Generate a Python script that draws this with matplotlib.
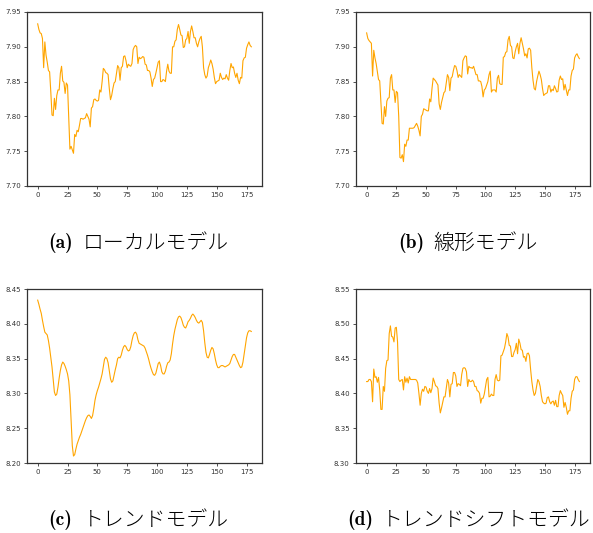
import matplotlib.pyplot as plt

# series (index 0..179)
local_model = [
    7.933, 7.925, 7.920, 7.919, 7.912, 7.870, 7.907, 7.888, 7.878, 7.866,
    7.864, 7.835, 7.802, 7.801, 7.826, 7.810, 7.830, 7.838, 7.838, 7.862,
    7.872, 7.851, 7.849, 7.833, 7.848, 7.845, 7.800, 7.753, 7.757, 7.752,
    7.747, 7.774, 7.771, 7.780, 7.778, 7.787, 7.797, 7.797, 7.796, 7.797,
    7.798, 7.804, 7.800, 7.796, 7.785, 7.812, 7.814, 7.824, 7.825, 7.823,
    7.822, 7.823, 7.838, 7.835, 7.850, 7.869, 7.867, 7.863, 7.862, 7.860,
    7.840, 7.824, 7.830, 7.840, 7.848, 7.850, 7.862, 7.873, 7.870, 7.852,
    7.870, 7.872, 7.886, 7.887, 7.880, 7.870, 7.875, 7.873, 7.872, 7.876,
    7.896, 7.900, 7.902, 7.900, 7.876, 7.885, 7.883, 7.884, 7.886, 7.885,
    7.875, 7.874, 7.866, 7.866, 7.864, 7.855, 7.843, 7.853, 7.855, 7.862,
    7.870, 7.878, 7.880, 7.850, 7.850, 7.853, 7.852, 7.850, 7.865, 7.875,
    7.865, 7.862, 7.862, 7.900, 7.900, 7.908, 7.910, 7.925, 7.932, 7.925,
    7.917, 7.916, 7.899, 7.900, 7.910, 7.912, 7.922, 7.905, 7.922, 7.930,
    7.922, 7.913, 7.913, 7.905, 7.900, 7.907, 7.912, 7.915, 7.900, 7.870,
    7.860, 7.855, 7.858, 7.870, 7.875, 7.881, 7.876, 7.868, 7.856, 7.847,
    7.850, 7.851, 7.852, 7.862, 7.856, 7.853, 7.855, 7.854, 7.860, 7.855,
    7.852, 7.866, 7.876, 7.870, 7.871, 7.862, 7.856, 7.862, 7.852, 7.847,
    7.856, 7.855, 7.880, 7.884, 7.885, 7.898, 7.903, 7.907, 7.902, 7.900,
]

linear_model = [
    7.920, 7.912, 7.909, 7.907, 7.905, 7.858, 7.895, 7.884, 7.876, 7.864,
    7.853, 7.851, 7.820, 7.790, 7.789, 7.814, 7.800, 7.822, 7.826, 7.827,
    7.855, 7.860, 7.838, 7.838, 7.820, 7.836, 7.834, 7.800, 7.741, 7.740,
    7.745, 7.735, 7.760, 7.757, 7.766, 7.766, 7.783, 7.783, 7.783, 7.783,
    7.784, 7.787, 7.790, 7.786, 7.780, 7.772, 7.800, 7.803, 7.811, 7.810,
    7.809, 7.808, 7.808, 7.825, 7.821, 7.840, 7.855, 7.853, 7.851, 7.848,
    7.845, 7.818, 7.810, 7.820, 7.827, 7.834, 7.836, 7.848, 7.860, 7.856,
    7.837, 7.855, 7.857, 7.866, 7.873, 7.872, 7.866, 7.856, 7.860, 7.858,
    7.856, 7.880, 7.884, 7.887, 7.886, 7.861, 7.872, 7.870, 7.870, 7.869,
    7.872, 7.866, 7.860, 7.860, 7.851, 7.851, 7.850, 7.843, 7.828, 7.838,
    7.840, 7.845, 7.850, 7.860, 7.865, 7.835, 7.838, 7.838, 7.838, 7.835,
    7.855, 7.859, 7.847, 7.846, 7.846, 7.885, 7.886, 7.892, 7.893, 7.910,
    7.915, 7.902, 7.900, 7.884, 7.883, 7.893, 7.900, 7.905, 7.890, 7.905,
    7.913, 7.905, 7.897, 7.887, 7.890, 7.884, 7.897, 7.898, 7.895, 7.870,
    7.852, 7.840, 7.838, 7.850, 7.858, 7.865, 7.860, 7.853, 7.840, 7.830,
    7.832, 7.833, 7.834, 7.844, 7.844, 7.835, 7.839, 7.837, 7.844, 7.840,
    7.835, 7.836, 7.852, 7.858, 7.853, 7.854, 7.838, 7.846, 7.838, 7.830,
    7.838, 7.838, 7.858, 7.866, 7.868, 7.884, 7.888, 7.890, 7.886, 7.883,
]

trend_model = [
    8.434, 8.428, 8.421, 8.415, 8.405, 8.396, 8.388, 8.386, 8.384, 8.376,
    8.365, 8.352, 8.338, 8.320, 8.302, 8.297, 8.299, 8.309, 8.322, 8.333,
    8.341, 8.345, 8.343, 8.339, 8.334, 8.328, 8.318, 8.298, 8.262, 8.225,
    8.210, 8.212, 8.220, 8.227, 8.232, 8.237, 8.241, 8.246, 8.251, 8.256,
    8.261, 8.265, 8.268, 8.269, 8.267, 8.264, 8.268, 8.278, 8.290, 8.298,
    8.304, 8.309, 8.315, 8.321, 8.328, 8.339, 8.349, 8.352, 8.350, 8.344,
    8.333, 8.321, 8.316, 8.318, 8.326, 8.334, 8.341, 8.350, 8.352, 8.351,
    8.355, 8.362, 8.367, 8.369, 8.367, 8.363, 8.361, 8.362, 8.367, 8.376,
    8.383, 8.387, 8.388, 8.385, 8.377, 8.372, 8.371, 8.370, 8.369, 8.368,
    8.365, 8.360, 8.355, 8.349, 8.342, 8.336, 8.331, 8.327, 8.326, 8.329,
    8.336, 8.343, 8.345, 8.340, 8.331, 8.328, 8.328, 8.332, 8.339, 8.344,
    8.345, 8.348, 8.357, 8.371, 8.383, 8.392, 8.399, 8.406, 8.410, 8.411,
    8.409, 8.404, 8.398, 8.395, 8.394, 8.398, 8.403, 8.405, 8.408, 8.412,
    8.414, 8.412, 8.409, 8.405, 8.402, 8.401, 8.403, 8.405, 8.402, 8.390,
    8.373, 8.359, 8.352, 8.351, 8.356, 8.362, 8.366, 8.364, 8.357, 8.348,
    8.341, 8.337, 8.337, 8.339, 8.340, 8.340, 8.339, 8.338, 8.339, 8.340,
    8.341, 8.343, 8.348, 8.353, 8.356, 8.356, 8.352, 8.348, 8.344, 8.340,
    8.337, 8.338, 8.345, 8.357, 8.369, 8.380, 8.387, 8.390, 8.390, 8.389,
]

trend_shift_model = [
    8.417, 8.417, 8.420, 8.420, 8.417, 8.388, 8.435, 8.423, 8.424, 8.416,
    8.423, 8.405, 8.377, 8.377, 8.410, 8.403, 8.436, 8.447, 8.448, 8.486,
    8.497, 8.482, 8.481, 8.474, 8.494, 8.495, 8.474, 8.420, 8.417, 8.419,
    8.420, 8.405, 8.424, 8.416, 8.422, 8.415, 8.424, 8.420, 8.420, 8.420,
    8.420, 8.420, 8.419, 8.415, 8.400, 8.383, 8.400, 8.406, 8.403, 8.410,
    8.409, 8.403, 8.400, 8.407, 8.401, 8.407, 8.422, 8.417, 8.411, 8.410,
    8.407, 8.386, 8.372, 8.379, 8.387, 8.395, 8.395, 8.407, 8.420, 8.415,
    8.395, 8.413, 8.414, 8.430, 8.430, 8.425, 8.410, 8.414, 8.413, 8.411,
    8.427, 8.436, 8.437, 8.436, 8.431, 8.410, 8.420, 8.417, 8.417, 8.419,
    8.417, 8.410, 8.410, 8.404, 8.403, 8.400, 8.386, 8.393, 8.393, 8.399,
    8.410, 8.420, 8.423, 8.395, 8.396, 8.399, 8.397, 8.397, 8.420, 8.427,
    8.419, 8.418, 8.419, 8.454, 8.455, 8.460, 8.465, 8.474, 8.486, 8.481,
    8.469, 8.468, 8.453, 8.453, 8.459, 8.463, 8.472, 8.457, 8.478, 8.472,
    8.463, 8.462, 8.452, 8.453, 8.446, 8.457, 8.458, 8.454, 8.434, 8.417,
    8.405, 8.397, 8.400, 8.410, 8.420, 8.417, 8.410, 8.397, 8.388, 8.386,
    8.385, 8.386, 8.394, 8.395, 8.388, 8.385, 8.388, 8.389, 8.383, 8.390,
    8.381, 8.381, 8.397, 8.404, 8.400, 8.397, 8.380, 8.387, 8.380, 8.370,
    8.375, 8.375, 8.393, 8.403, 8.405, 8.420, 8.424, 8.424, 8.420, 8.417,
]

series = [local_model, linear_model, trend_model, trend_shift_model]
ylims = [(7.70, 7.95), (7.70, 7.95), (8.20, 8.45), (8.30, 8.55)]
labels = ['(a)', '(b)', '(c)', '(d)']
titles = ['ローカルモデル', '線形モデル', 'トレンドモデル', 'トレンドシフトモデル']

W, H = 593, 533
fig = plt.figure(figsize=(W / 100, H / 100), dpi=100)

# axes boxes in pixels: left, top, right, bottom
boxes = [(27, 12, 262, 186), (356, 12, 590, 186),
         (27, 289, 262, 463), (356, 289, 590, 463)]
# caption anchors in pixels: x where the label starts, vertical centre
captions = [(48, 243), (398, 243), (48, 520), (347, 520)]

for vals, (lo, hi), box in zip(series, ylims, boxes):
    l, t, r, b = box
    ax = fig.add_axes([l / W, 1 - b / H, (r - l) / W, (b - t) / H])
    ax.plot(range(len(vals)), vals, color='orange', lw=0.8)
    ax.set_ylim(lo, hi)
    ax.set_xticks([0, 25, 50, 75, 100, 125, 150, 175])
    ax.set_yticks([lo + 0.05 * i for i in range(6)])
    ax.yaxis.set_major_formatter(plt.FormatStrFormatter('%.2f'))
    ax.tick_params(labelsize=5, length=2.5, width=0.6, pad=2, colors='#333333')
    for s in ax.spines.values():
        s.set_color('#333333')
        s.set_linewidth(0.9)

for lab, title, (cx, cy) in zip(labels, titles, captions):
    fig.text(cx / W, 1 - cy / H, lab, fontfamily='cmb10', fontsize=14,
             va='center', ha='left')
    fig.text((cx + 35) / W, 1 - cy / H, title, fontfamily='Noto Sans CJK JP',
             fontweight='light', fontsize=15, va='center', ha='left')

fig.savefig('out.png', dpi=100)
